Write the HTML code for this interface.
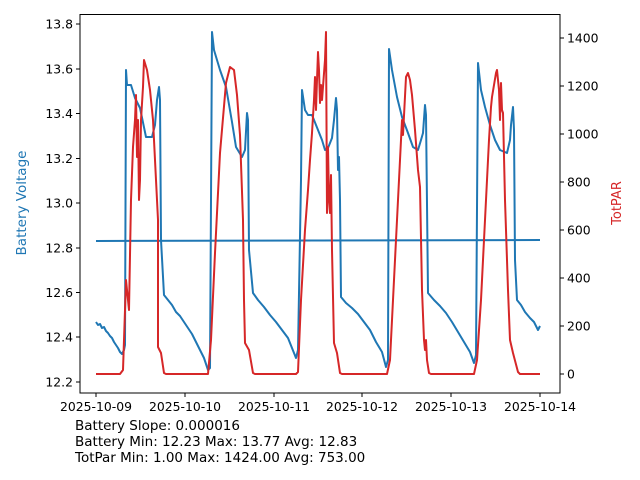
<!DOCTYPE html>
<html><head><style>body{margin:0;background:#fff}svg{display:block}text{font-family:"DejaVu Sans","Liberation Sans",sans-serif}</style></head>
<body>
<svg width="640" height="480" viewBox="0 0 640 480" xmlns="http://www.w3.org/2000/svg">
<rect width="640" height="480" fill="#fff"/>
<g fill="none" stroke-linejoin="round" stroke-width="2">
<line x1="96" y1="241" x2="540" y2="240" stroke="#1f77b4"/>
<polyline stroke="#1f77b4" points="96,322 98,325 100,324 102,328 104,327 106,331 108,333 110,336 112,338 114,342 116,345 118,348 120,352 122,354 124,350 125,345 126,70 127,85 131,85 135,98 140,108 146,137 152,137 155,125 157,100 159,87 160,100 161,240 164,295 168,300 172,305 176,312 180,316 184,322 188,328 192,334 196,342 200,350 204,358 208,370 210,368 212,32 214,50 220,70 226,87 232,122 236,147 242,157 245,150 247,113 248,120 249,250 253,293 258,300 264,307 270,315 276,322 282,330 288,338 292,348 296,358 298,350 301,180 302,90 305,110 308,115 312,115 316,125 322,140 325,150 328,148 332,138 334,120 336,98 337,110 338,170 339,157 340,200 341,297 346,303 352,308 358,314 364,322 370,330 376,342 382,352 386,367 388,360 389,49 392,70 397,97 402,117 408,133 413,147 418,150 421,140 423,133 425,105 426,115 428,293 434,300 440,306 446,313 452,322 458,332 464,342 470,352 474,363 476,355 478,63 481,90 485,107 490,125 495,140 500,150 507,153 510,140 511,125 513,107 514,130 515,260 517,300 521,305 525,312 530,318 534,322 538,330 540,326"/>
<polyline stroke="#d62728" points="96,374 120,374 123,370 126,280 128,300 129,310 131,200 133,147 135,120 136,95 137,157 138,120 139,200 140,180 141,120 143,87 144,60 147,70 150,90 153,120 156,180 158,220 158,347 161,353 164,373 166,374 208,374 211,340 215,253 220,153 226,83 230,67 234,70 237,95 240,135 243,220 244,300 245,343 249,350 253,373 255,374 296,374 298,372 301,300 305,230 308,190 310,160 312,133 314,100 315,77 316,110 317,80 318,52 319,70 320,103 321,85 322,100 325,60 326,32 327,213 328,147 329,200 330,213 331,175 332,250 334,343 337,353 340,373 342,374 387,374 390,360 393,300 397,220 400,160 402,120 403,135 406,77 408,73 410,80 412,95 415,130 418,170 420,187 422,290 424,340 425,350 426,340 427,360 429,373 431,374 474,374 477,360 481,300 484,240 486,200 487,180 489,140 491,107 492,97 494,85 496,73 497,70 499,90 500,120 501,83 502,110 503,113 505,200 508,290 510,340 513,353 518,372 520,374 540,374"/>
</g>
<rect x="80" y="14.5" width="480" height="378.5" fill="none" stroke="#000" stroke-width="1"/>
<g stroke="#000" stroke-width="1">
<line x1="76" x2="80" y1="382" y2="382"/><line x1="76" x2="80" y1="337" y2="337"/><line x1="76" x2="80" y1="292.5" y2="292.5"/><line x1="76" x2="80" y1="248" y2="248"/><line x1="76" x2="80" y1="203" y2="203"/><line x1="76" x2="80" y1="158.5" y2="158.5"/><line x1="76" x2="80" y1="113.5" y2="113.5"/><line x1="76" x2="80" y1="69" y2="69"/><line x1="76" x2="80" y1="24" y2="24"/>
<line x1="560" x2="564" y1="374" y2="374"/><line x1="560" x2="564" y1="326" y2="326"/><line x1="560" x2="564" y1="278" y2="278"/><line x1="560" x2="564" y1="230" y2="230"/><line x1="560" x2="564" y1="182" y2="182"/><line x1="560" x2="564" y1="134" y2="134"/><line x1="560" x2="564" y1="86" y2="86"/><line x1="560" x2="564" y1="38" y2="38"/>
<line x1="96" x2="96" y1="393" y2="397"/><line x1="185" x2="185" y1="393" y2="397"/><line x1="274" x2="274" y1="393" y2="397"/><line x1="362" x2="362" y1="393" y2="397"/><line x1="451" x2="451" y1="393" y2="397"/><line x1="540" x2="540" y1="393" y2="397"/>
</g>
<g font-size="12.4" text-anchor="end" fill="#000">
<text x="73" y="386.5">12.2</text><text x="73" y="341.5">12.4</text><text x="73" y="297">12.6</text><text x="73" y="252.5">12.8</text><text x="73" y="207.5">13.0</text><text x="73" y="163">13.2</text><text x="73" y="118">13.4</text><text x="73" y="73.5">13.6</text><text x="73" y="28.5">13.8</text>
</g>
<g font-size="12.4" text-anchor="start" fill="#000">
<text x="567" y="378.5">0</text><text x="567" y="330.5">200</text><text x="567" y="282.5">400</text><text x="567" y="234.5">600</text><text x="567" y="186.5">800</text><text x="567" y="138.5">1000</text><text x="567" y="90.5">1200</text><text x="567" y="42.5">1400</text>
</g>
<g font-size="12.4" text-anchor="middle" fill="#000">
<text x="96" y="411">2025-10-09</text><text x="185" y="411">2025-10-10</text><text x="274" y="411">2025-10-11</text><text x="362" y="411">2025-10-12</text><text x="451" y="411">2025-10-13</text><text x="540" y="411">2025-10-14</text>
</g>
<text transform="translate(26,203) rotate(-90)" font-size="13.5" text-anchor="middle" fill="#1f77b4">Battery Voltage</text>
<text transform="translate(621,203) rotate(-90)" font-size="13" text-anchor="middle" fill="#d62728">TotPAR</text>
<g font-size="13.5" fill="#000">
<text x="75" y="430">Battery Slope: 0.000016</text>
<text x="75" y="446">Battery Min: 12.23 Max: 13.77 Avg: 12.83</text>
<text x="75" y="462">TotPar Min: 1.00 Max: 1424.00 Avg: 753.00</text>
</g>
</svg>
</body></html>
